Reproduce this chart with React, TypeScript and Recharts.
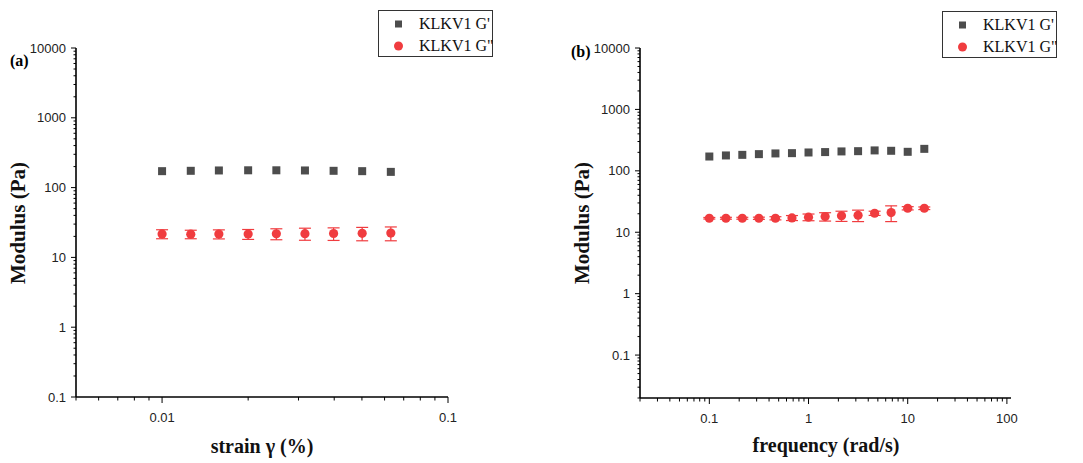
import React from "react";
import { ErrorBar, Legend, Scatter, ScatterChart, XAxis, YAxis } from "recharts";

// panel (a): strain sweep
const strainX = [0.01, 0.0126, 0.0158, 0.02, 0.0251, 0.0316, 0.0398, 0.0501, 0.0631];
const strainGp = [172, 174, 176, 177, 177, 176, 174, 172, 168];
const strainGpp = [21.7, 21.5, 21.6, 21.6, 21.8, 21.9, 22.0, 22.1, 22.3];
const strainGppErr = [3.2, 3.0, 3.2, 3.5, 3.9, 4.3, 4.5, 4.8, 5.0];

// panel (b): frequency sweep
const freqX = [0.1, 0.147, 0.215, 0.316, 0.464, 0.681, 1, 1.47, 2.15, 3.16, 4.64, 6.81, 10, 14.7];
const freqGp = [171, 178, 182, 187, 192, 194, 199, 202, 207, 209, 215, 212, 204, 228];
const freqGpp = [16.9, 16.9, 16.9, 16.9, 16.9, 17.1, 17.6, 18.0, 18.5, 18.9, 20.4, 20.9, 24.6, 24.6];
const freqGppErr = [0.5, 0.6, 0.6, 0.7, 1.0, 1.6, 2.2, 2.8, 3.5, 4.0, 1.6, 6.0, 1.5, 1.2];

const seriesNames = ["KLKV1 G'", 'KLKV1 G"'];
const panelLabels = ["(a)", "(b)"];
const xTitles = ["strain \u03b3 (%)", "frequency (rad/s)"];
const yTitle = "Modulus (Pa)";

const leftXDomain = [0.005, 0.1];
const leftYDomain = [0.1, 10000];
const rightXDomain = [0.02, 110];
const rightYDomain = [0.02, 10000];

const GREY = "#4d4d4d";
const RED = "#f03c3f";
const SANS = "'Liberation Sans', Arial, sans-serif";
const SERIF = "'Liberation Serif', 'Times New Roman', serif";

// major + minor ticks for a log axis
function logTicks(lo: number, hi: number) {
  const out: number[] = [];
  for (let e = Math.floor(Math.log10(lo)); e <= Math.ceil(Math.log10(hi)); e++) {
    for (let m = 1; m <= 9; m++) {
      const v = +(m * Math.pow(10, e)).toPrecision(6);
      if (v >= lo * 0.9999 && v <= hi * 1.0001) out.push(v);
    }
  }
  return out;
}

const isMajor = (v: number) => Math.abs(Math.log10(v) - Math.round(Math.log10(v))) < 1e-6;

function XTick(props: any) {
  const { x, y, payload } = props;
  const v = payload.value;
  const major = isMajor(v);
  return (
    <g>
      <line x1={x} x2={x} y1={y} y2={y + (major ? 6 : 3.5)} stroke="#000" strokeWidth={1} />
      {major && (
        <text x={x} y={y + 25} textAnchor="middle" fontFamily={SANS} fontSize={13} fill="#222">
          {String(v)}
        </text>
      )}
    </g>
  );
}

function YTick(props: any) {
  const { x, y, payload } = props;
  const v = payload.value;
  const major = isMajor(v);
  return (
    <g>
      <line x1={x} x2={x - (major ? 5 : 2.5)} y1={y} y2={y} stroke="#000" strokeWidth={1} />
      {major && (
        <text x={x - 10} y={y + 4.5} textAnchor="end" fontFamily={SANS} fontSize={13} fill="#222">
          {String(v)}
        </text>
      )}
    </g>
  );
}

const square = (p: any) => <rect x={p.cx - 4} y={p.cy - 4} width={8} height={8} fill={GREY} />;
const dot = (p: any) => <circle cx={p.cx} cy={p.cy} r={4.6} fill={RED} />;

function LegendBox() {
  return (
    <div style={{ border: "1.3px solid #333", width: 113, height: 45, position: "relative", background: "#fff" }}>
      {seriesNames.map((n, i) => (
        <div key={n} style={{ position: "absolute", left: 0, top: 3 + i * 22, height: 20, display: "flex", alignItems: "center" }}>
          <svg width={40} height={20}>
            {i === 0 ? <rect x={16} y={6.5} width={7} height={7} fill={GREY} /> : <circle cx={19.5} cy={10} r={4.5} fill={RED} />}
          </svg>
          <span style={{ fontFamily: SERIF, fontSize: 16, color: "#111", whiteSpace: "nowrap" }}>{n}</span>
        </div>
      ))}
    </div>
  );
}

function Panel(props: {
  x: number[];
  gp: number[];
  gpp: number[];
  err: number[];
  xDomain: number[];
  yDomain: number[];
  width: number;
  margin: { top: number; left: number; right: number; bottom: number };
  legendPos: { left: number; top: number };
}) {
  const gpData = props.x.map((x, i) => ({ x, y: props.gp[i] }));
  const gppData = props.x.map((x, i) => ({ x, y: props.gpp[i], e: props.err[i] }));
  return (
    <ScatterChart width={props.width} height={463} margin={props.margin}>
      <XAxis
        type="number"
        dataKey="x"
        scale="log"
        domain={props.xDomain}
        allowDataOverflow
        ticks={logTicks(props.xDomain[0], props.xDomain[1])}
        interval={0}
        height={1}
        tickSize={0}
        tickMargin={0}
        tickLine={false}
        tick={<XTick />}
        axisLine={{ stroke: "#000", strokeWidth: 1.6 }}
      />
      <YAxis
        type="number"
        dataKey="y"
        scale="log"
        domain={props.yDomain}
        allowDataOverflow
        ticks={logTicks(props.yDomain[0], props.yDomain[1])}
        interval={0}
        width={1}
        tickSize={0}
        tickMargin={0}
        tickLine={false}
        tick={<YTick />}
        axisLine={{ stroke: "#000", strokeWidth: 1.6 }}
      />
      <Legend
        layout="vertical"
        align="center"
        verticalAlign="middle"
        content={() => <LegendBox />}
        wrapperStyle={{ position: "absolute", left: props.legendPos.left, top: props.legendPos.top, width: 116 }}
      />
      <Scatter name={seriesNames[0]} data={gpData} shape={square} isAnimationActive={false} />
      <Scatter name={seriesNames[1]} data={gppData} shape={dot} isAnimationActive={false}>
        <ErrorBar dataKey="e" direction="y" width={6} stroke={RED} strokeWidth={1.2} />
      </Scatter>
    </ScatterChart>
  );
}

const abs = (s: React.CSSProperties): React.CSSProperties => ({ position: "absolute", ...s });

export default function App() {
  return (
    <div style={{ position: "absolute", left: 0, top: 0, width: 1083, height: 463, background: "#fff", overflow: "hidden" }}>
      <div style={abs({ left: 0, top: 0 })}>
        <Panel
          x={strainX}
          gp={strainGp}
          gpp={strainGpp}
          err={strainGppErr}
          xDomain={leftXDomain}
          yDomain={leftYDomain}
          width={540}
          margin={{ top: 48, left: 75, right: 92, bottom: 65 }}
          legendPos={{ left: 378, top: 10 }}
        />
      </div>
      <div style={abs({ left: 540, top: 0 })}>
        <Panel
          x={freqX}
          gp={freqGp}
          gpp={freqGpp}
          err={freqGppErr}
          xDomain={rightXDomain}
          yDomain={rightYDomain}
          width={543}
          margin={{ top: 48, left: 99, right: 72, bottom: 64 }}
          legendPos={{ left: 402, top: 11 }}
        />
      </div>

      {/* panel labels */}
      <div style={abs({ left: 10, top: 52, fontFamily: SERIF, fontWeight: "bold", fontSize: 16 })}>{panelLabels[0]}</div>
      <div style={abs({ left: 571, top: 43, fontFamily: SERIF, fontWeight: "bold", fontSize: 16 })}>{panelLabels[1]}</div>

      {/* y titles */}
      {[18, 582].map((cx) => (
        <div
          key={cx}
          style={abs({
            left: cx - 80,
            top: 223 - 13,
            width: 160,
            height: 26,
            textAlign: "center",
            lineHeight: "26px",
            transform: "rotate(-90deg)",
            fontFamily: SERIF,
            fontWeight: "bold",
            fontSize: 21,
            color: "#111",
          })}
        >
          {yTitle}
        </div>
      ))}

      {/* x titles */}
      <div style={abs({ left: 262 - 100, top: 435, width: 200, textAlign: "center", fontFamily: SERIF, fontWeight: "bold", fontSize: 20, color: "#111" })}>
        {xTitles[0]}
      </div>
      <div style={abs({ left: 826 - 120, top: 434, width: 240, textAlign: "center", fontFamily: SERIF, fontWeight: "bold", fontSize: 20, color: "#111" })}>
        {xTitles[1]}
      </div>
    </div>
  );
}
